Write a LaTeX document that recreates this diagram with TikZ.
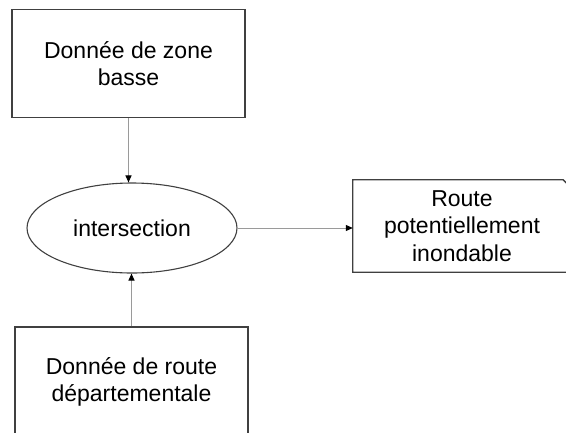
\documentclass[tikz,border=0pt]{standalone}
\usepackage{fontspec}
\setmainfont{Liberation Sans}
\usetikzlibrary{arrows.meta,shapes.geometric}

\definecolor{boxline}{HTML}{404040}
\definecolor{linkline}{HTML}{9A9A9A}

\tikzset{
  lbl/.style={align=center, inner sep=0pt,
    font=\fontsize{23}{27.5}\selectfont},
  databox/.style={lbl, draw=boxline, line width=1.3pt, rectangle},
  opnode/.style={lbl, draw=boxline, line width=1.1pt, ellipse},
  link/.style={draw=linkline, line width=1pt,
    -{Triangle[length=7pt,width=6pt,color=black]}}
}

\begin{document}
\begin{tikzpicture}[x=1pt, y=-1pt]
  \useasboundingbox (0,0) rectangle (566,432);
  \clip (0,0) rectangle (566,432);

  % input: low-lying zones
  \node[databox, minimum width=233pt, minimum height=108pt]
    (zone) at (128.5,63.5) {Donnée de zone\\basse};

  % spatial operation
  \node[opnode, minimum width=210pt, minimum height=90pt]
    (inter) at (132,228) {intersection};

  % input: departmental roads
  \node[databox, minimum width=233pt, minimum height=110pt]
    (route) at (131.5,382) {Donnée de route\\départementale};

  % output (its right side runs past the page edge, with a cut corner)
  \node[lbl, minimum width=218pt, minimum height=92pt]
    (out) at (462,226) {Route\\potentiellement\\inondable};
  \draw[boxline, line width=1.3pt]
    (out.south east) -- (out.south west) -- (out.north west)
    -- ([xshift=-8pt]out.north east) -- ([yshift=-8pt]out.north east)
    -- (out.south east);

  % connectors
  \draw[link] (zone.south) -- (zone.south |- inter.north);
  \draw[link] (route.north) -- (route.north |- inter.south);
  \draw[link] (inter.east) -- (inter.east -| out.west);
\end{tikzpicture}
\end{document}
